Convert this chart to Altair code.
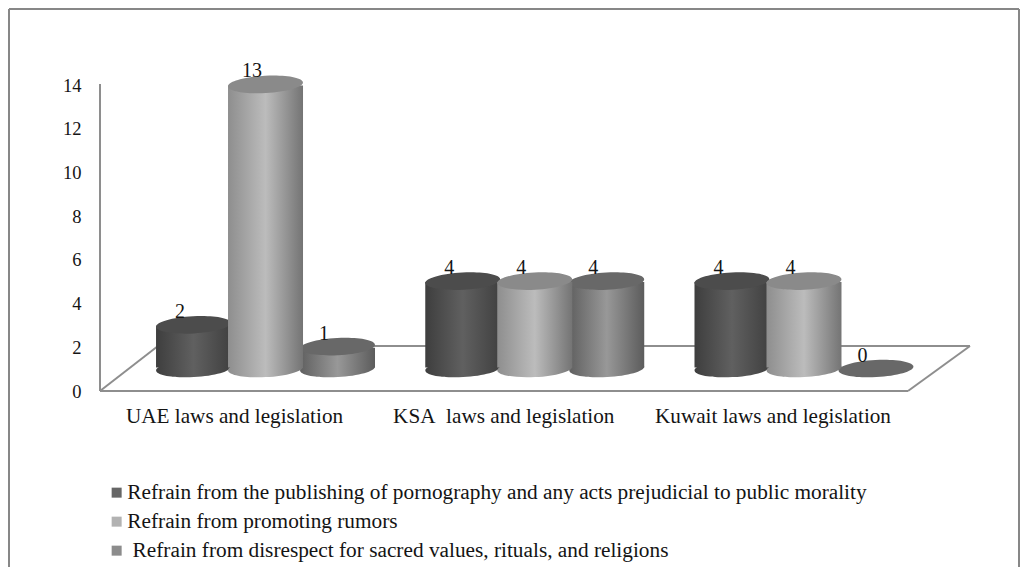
import altair as alt
import pandas as pd

categories = ["UAE laws and legislation", "KSA\u00a0 laws and legislation", "Kuwait laws and legislation"]
series = [
    "Refrain from the publishing of pornography and any acts prejudicial to public morality",
    "Refrain from promoting rumors",
    "\u200b\u00a0Refrain from disrespect for sacred values, rituals, and religions",
]
values_publishing = [2, 4, 4]
values_rumors = [13, 4, 4]
values_disrespect = [1, 4, 0]
legend_colors = ["#666666", "#b2b2b2", "#8c8c8c"]
top_colors = ["#4c4c4c", "#8a8a8a", "#686868"]
body_stops = [
    ["#3e3e3e", "#606060", "#404040"],
    ["#8e8e8e", "#bcbcbc", "#747474"],
    ["#606060", "#989898", "#5c5c5c"],
]
FONT = "Liberation Serif"
TEXT = "#141414"
LINE = "#8e8e8e"

rows = []
for s, vals in zip(series, [values_publishing, values_rumors, values_disrespect]):
    for c, v in zip(categories, vals):
        rows.append({"category": c, "series": s, "value": v})
df = pd.DataFrame(rows)

y_scale = alt.Scale(domain=[-8.055, 17.529], nice=False, zero=False)
y_axis = alt.Axis(values=list(range(0, 15, 2)), orient="left", offset=-92, ticks=False, domain=False, grid=False,
                  labelFont=FONT, labelFontSize=18.5, labelColor=TEXT, labelPadding=19)

x_enc = alt.X("category:N", sort=categories, title=None,
              scale=alt.Scale(domain=categories, range=[122.9, 930.6], paddingInner=0, paddingOuter=0),
              axis=alt.Axis(orient="bottom", offset=-161.5, labelOffset=-31, labelAngle=0, ticks=False, domain=False,
                            labelFont=FONT, labelFontSize=21.2, labelColor=TEXT, labelPadding=0, labelLimit=400,
                            grid=False))
xo_enc = alt.XOffset("series:N", scale=alt.Scale(domain=series, paddingInner=0, paddingOuter=0.37))
y_enc = alt.Y("value:Q", title=None, stack=None, scale=y_scale, axis=y_axis)
y_base = alt.Y("base:Q", title=None, stack=None, scale=y_scale, axis=y_axis)

ELLIPSE = ("M-1,0 C-1,-0.127 -0.552,-0.23 0,-0.23 C0.552,-0.23 1,-0.127 1,0 "
           "C1,0.127 0.552,0.23 0,0.23 C-0.552,0.23 -1,0.127 -1,0 Z")
SIZE = 4 * 37.5 ** 2
LIFT = -22.5


def grad(stops):
    return alt.Gradient(gradient="linear", x1=0, x2=1, y1=0, y2=0, stops=[
        alt.GradientStop(color=stops[0], offset=0),
        alt.GradientStop(color=stops[1], offset=0.5),
        alt.GradientStop(color=stops[2], offset=1),
    ])


def cylinder(i):
    d = df[df.series == series[i]]
    base = alt.Chart(d).transform_calculate(base="0")
    raised = base.transform_filter("datum.value > 0")
    body = grad(body_stops[i])
    bottom = raised.mark_point(shape=ELLIPSE, size=SIZE, filled=True, opacity=1, color=body, angle=357,
                               yOffset=LIFT).encode(x=x_enc, xOffset=xo_enc, y=y_base)
    bar = raised.mark_bar(size=75, color=body, yOffset=LIFT + 1, y2Offset=LIFT - 1).encode(
        x=x_enc, xOffset=xo_enc, y=y_enc, y2="base:Q")
    top = base.mark_point(shape=ELLIPSE, size=SIZE, filled=True, opacity=1, color=top_colors[i], angle=357,
                          yOffset=LIFT).encode(x=x_enc, xOffset=xo_enc, y=y_enc)
    return [bottom, bar, top]


def frame(x1, y1, x2, y2, w=2, color=LINE):
    return alt.Chart(pd.DataFrame({"a": [0]})).mark_rule(color=color, strokeWidth=w).encode(
        x=alt.value(x1), x2=alt.value(x2), y=alt.value(y1), y2=alt.value(y2))


lines = [
    frame(1, 1, 1011, 1, 2, "#878787"),
    frame(1, 1, 1, 559, 2, "#878787"),
    frame(1011, 1, 1011, 559, 2, "#878787"),
    frame(92, 76, 92, 383),
    frame(92, 383, 900, 383),
    frame(92, 383, 150, 338),
    frame(150, 338, 962, 338),
    frame(962, 338, 900, 383),
]

legend_layer = alt.Chart(df).mark_square(size=0).encode(
    x=x_enc, xOffset=xo_enc, y=y_enc,
    color=alt.Color("series:N", scale=alt.Scale(domain=series, range=legend_colors), title=None,
                    legend=alt.Legend(orient="none", legendX=98, legendY=474, symbolType="square", symbolSize=100,
                                      symbolStrokeWidth=0, labelFont=FONT, labelFontSize=21.3, labelColor=TEXT,
                                      labelLimit=900, labelOffset=0, rowPadding=7, padding=0, columns=1,
                                      symbolOpacity=1)))

labels = alt.Chart(df).mark_text(font=FONT, fontSize=20, color=TEXT, dx=-13.5, dy=LIFT - 13, baseline="middle").encode(
    x=x_enc, xOffset=xo_enc, y=y_enc, text="value:Q")

layers = lines + cylinder(0) + cylinder(2) + cylinder(1) + [legend_layer, labels]
chart = alt.layer(*layers).properties(
    width=1012, height=559, padding=0,
    autosize=alt.AutoSizeParams(type="none"),
    background="white",
).configure_view(stroke=None)

chart.save("out.html", embed_options={"renderer": "svg", "actions": False})
